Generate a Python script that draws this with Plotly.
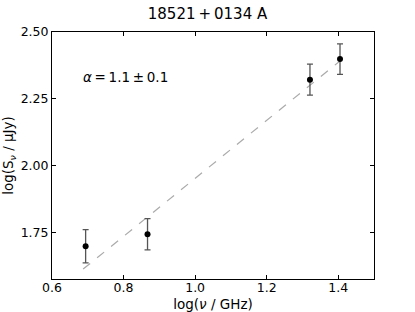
import plotly.graph_objects as go

log_freq = [0.694, 0.867, 1.321, 1.405]
log_flux = [1.700, 1.745, 2.322, 2.399]
flux_err = [0.062, 0.058, 0.058, 0.057]
fit_x = [0.687, 1.405]
fit_y = [1.615, 2.392]
title_text = "18521\u2009+\u20090134 A"
alpha_text = "<i>α</i>\u2009=\u20091.1\u2009±\u20090.1"
x_ticks = [0.6, 0.8, 1.0, 1.2, 1.4]
y_ticks = [1.75, 2.00, 2.25, 2.50]

fig = go.Figure()
fig.add_trace(go.Scatter(x=fit_x, y=fit_y, mode="lines",
                         line=dict(color="#aaaaaa", width=1.2, dash="dash"),
                         showlegend=False))
fig.add_trace(go.Scatter(x=log_freq, y=log_flux, mode="markers",
                         marker=dict(color="black", size=6),
                         error_y=dict(type="data", array=flux_err, color="#555555",
                                      thickness=1.3, width=3),
                         showlegend=False))
fig.add_annotation(x=0.68, y=2.333, xanchor="left", yanchor="middle",
                   text=alpha_text, showarrow=False,
                   font=dict(size=13.5, color="black", family="DejaVu Sans"))

axis_common = dict(showgrid=False, zeroline=False, showline=True, linecolor="black",
                   linewidth=1, mirror="ticks", ticks="inside", ticklen=4,
                   tickcolor="black", automargin=False,
                   tickfont=dict(size=12.5, color="black", family="DejaVu Sans"))
fig.update_xaxes(range=[0.6, 1.5], tickvals=x_ticks,
                 ticktext=[f"{v:.1f}" for v in x_ticks],
                 ticklabelstandoff=-3,
                 title=dict(text="log(<i>ν</i> / GHz)",
                            font=dict(size=13.5, color="black", family="DejaVu Sans")),
                 **axis_common)
fig.update_yaxes(range=[1.578, 2.5], tickvals=y_ticks,
                 ticktext=[f"{v:.2f}" for v in y_ticks],
                 title=dict(text="log(S<sub><i>ν</i></sub> / μJy)",
                            font=dict(size=13.5, color="black", family="DejaVu Sans")),
                 **axis_common)
fig.update_layout(width=415, height=312,
                  margin=dict(l=52, r=41, t=32, b=33, autoexpand=False),
                  paper_bgcolor="white", plot_bgcolor="white",
                  font=dict(family="DejaVu Sans", color="black"),
                  title=dict(text=title_text, x=0.5, xanchor="center",
                             yref="container", y=1 - 14 / 312, yanchor="middle",
                             font=dict(size=15, color="black", family="DejaVu Sans")))
fig.write_html("out.html", config={"displayModeBar": False},
               post_script="document.body.style.margin='0';")
